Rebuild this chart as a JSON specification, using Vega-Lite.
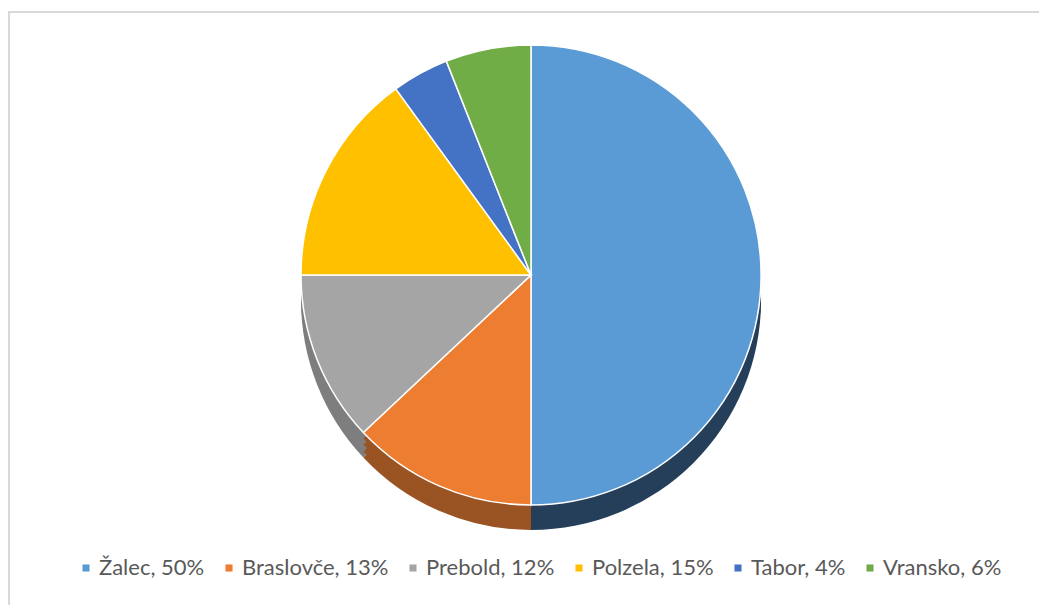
{
  "$schema": "https://vega.github.io/schema/vega-lite/v6.json",
  "width": 1044,
  "height": 596,
  "autosize": "none",
  "padding": {"left": 9, "top": 12, "right": -14, "bottom": -3},
  "background": "white",
  "data": {
    "values": [
      {"idx": 1, "label": "Žalec, 50%", "value": 50},
      {"idx": 2, "label": "Braslovče, 13%", "value": 13},
      {"idx": 3, "label": "Prebold, 12%", "value": 12},
      {"idx": 4, "label": "Polzela, 15%", "value": 15},
      {"idx": 5, "label": "Tabor, 4%", "value": 4},
      {"idx": 6, "label": "Vransko, 6%", "value": 6}
    ]
  },
  "layer": [
    {
      "data": {"values": [{"frame": 1}]},
      "mark": {"type": "rect", "fill": null, "stroke": "#D9D9D9", "strokeWidth": 2},
      "encoding": {}
    },
    {
      "layer": [
        {"mark": {"type": "arc", "radius": 230, "yOffset": -10, "strokeWidth": 0}},
        {"mark": {"type": "arc", "radius": 230, "yOffset": -16, "strokeWidth": 0}},
        {"mark": {"type": "arc", "radius": 230, "yOffset": -23, "strokeWidth": 0}},
        {"mark": {"type": "arc", "radius": 230, "yOffset": -29, "strokeWidth": 0}}
      ],
      "encoding": {
        "theta": {"field": "value", "type": "quantitative", "stack": true},
        "order": {"field": "idx", "type": "quantitative"},
        "color": {"field": "label", "type": "nominal", "legend": null,
          "scale": {"domain": ["Žalec, 50%", "Braslovče, 13%", "Prebold, 12%", "Polzela, 15%", "Tabor, 4%", "Vransko, 6%"],
                    "range": ["#253F5A", "#9A5322", "#7E7E7E", "#B08600", "#2F5090", "#4E7A32"]}}
      }
    },
    {
      "mark": {"type": "arc", "radius": 230, "yOffset": -35, "stroke": "white", "strokeWidth": 1.5},
      "encoding": {
        "theta": {"field": "value", "type": "quantitative", "stack": true},
        "order": {"field": "idx", "type": "quantitative"},
        "color": {"field": "label", "type": "nominal",
          "scale": {"domain": ["Žalec, 50%", "Braslovče, 13%", "Prebold, 12%", "Polzela, 15%", "Tabor, 4%", "Vransko, 6%"],
                    "range": ["#5B9BD5", "#ED7D31", "#A5A5A5", "#FFC000", "#4472C4", "#70AD47"]},
          "legend": {
            "orient": "none", "legendX": 66, "legendY": 545,
            "direction": "horizontal", "columns": 6, "title": null,
            "padding": 0, "symbolType": "square", "symbolSize": 50, "symbolStrokeWidth": 0,
            "labelFont": "Lato", "labelFontSize": 22, "labelColor": "#595959",
            "columnPadding": 13, "labelOffset": 2
          }
        }
      }
    }
  ],
  "resolve": {"scale": {"color": "independent"}, "legend": {"color": "independent"}}
}
